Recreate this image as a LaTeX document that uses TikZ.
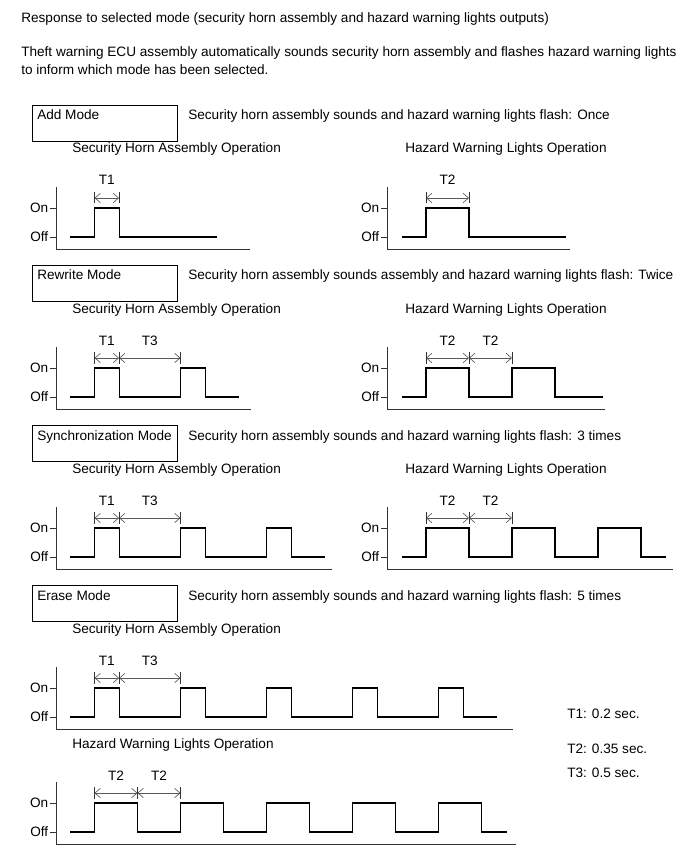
\documentclass[tikz,border=0pt]{standalone}
\usepackage{fontspec}
\setmainfont{Liberation Sans}
\usetikzlibrary{arrows.meta}

\tikzset{
  testo/.style={inner sep=0pt, anchor=base west},
  riquadro/.style={draw=black, line width=0.6pt},
  segnale/.style={draw=black, line width=0.8pt},
  asse/.style={draw=black!80, line width=0.6pt},
  quotatura/.style={draw=black!65, line width=0.5pt,
    {Straight Barb[length=4pt,width=7pt]}-{Straight Barb[length=4pt,width=7pt]}},
}

\begin{document}
\begin{tikzpicture}[x=0.75pt, y=-0.75pt, font=\fontsize{10.2}{12}\selectfont]
        \useasboundingbox (0,0) rectangle (691,855);
        % --- macro riutilizzabili -----------------------------------------
        \def\periodo{86}
        \def\tuno{24.6}
        \def\tdue{43}
        % riquadro della modalita: nome, y alto, titolo, descrizione
        \def\modalita#1#2#3#4{%
          \draw[riquadro] (32,#2) rectangle (177,#2+36);
          \node[testo] (#1-titolo) at (37,#2+15) {#3};
          \node[testo] (#1-descr) at (188,#2+15) {#4};}
        % assi: nome, x asse, y livello On, x fine asse
        \def\assi#1#2#3#4{%
          \draw[asse] (#2,#3-21) -- (#2,#3+41) -- (#4,#3+41);
          \draw[asse] (#2-6,#3) -- (#2,#3);
          \draw[asse] (#2-6,#3+29) -- (#2,#3+29);
          \node[testo, anchor=base east] (#1-on) at (#2-7.5,#3+4.5) {On};
          \node[testo, anchor=base east] (#1-off) at (#2-7.5,#3+33.5) {Off};}
        % impulsi: x inizio, x primo fronte, durata, numero, x fine, y On
        \def\impulsi#1#2#3#4#5#6{%
          \draw[segnale] (#1,#6+29) \foreach \k in {1,...,#4} {
            -- ({#2+(\k-1)*\periodo},#6+29) -- ({#2+(\k-1)*\periodo},#6)
            -- ({#2+(\k-1)*\periodo+#3},#6) -- ({#2+(\k-1)*\periodo+#3},#6+29)}
            -- (#5,#6+29);}
        % quota: nome, x1, x2, y livello On, etichetta
        \def\quota#1#2#3#4#5{%
          \draw[quotatura] (#2,#4-10) -- (#3,#4-10);
          \draw[asse, line width=0.5pt] (#2,#4-16) -- (#2,#4-4.5);
          \draw[asse, line width=0.5pt] (#3,#4-16) -- (#3,#4-4.5);
          \node[testo, anchor=base] (#1) at ({(#2+#3)/2},#4-23) {#5};}
        % --- intestazione -------------------------------------------------
        \node[testo] (titolo) at (21,23) {Response to selected mode (security horn assembly and hazard warning lights outputs)};
        \node[testo] (intro1) at (21,57) {Theft warning ECU assembly automatically sounds security horn assembly and flashes hazard warning lights};
        \node[testo] (intro2) at (21,74.5) {to inform which mode has been selected.};
        % --- add mode -----------------------------------------------------
        \modalita{add}{105}{Add Mode}{Security horn assembly sounds and hazard warning lights flash: Once}
        \node[testo] (add-sx) at (72,153) {Security Horn Assembly Operation};
        \node[testo] (add-dx) at (405,153) {Hazard Warning Lights Operation};
        \assi{add-clacson}{56}{208}{250}
        \impulsi{70}{94.5}{\tuno}{1}{217}{208}
        \quota{add-t1}{94.5}{94.5+\tuno}{208}{T1}
        \assi{add-luci}{387}{208}{570}
        \impulsi{402}{426}{\tdue}{1}{566}{208}
        \quota{add-t2}{426}{426+\tdue}{208}{T2}
        % --- rewrite mode -------------------------------------------------
        \modalita{rw}{265}{Rewrite Mode}{Security horn assembly sounds assembly and hazard warning lights flash: Twice}
        \node[testo] (rw-sx) at (72,313) {Security Horn Assembly Operation};
        \node[testo] (rw-dx) at (405,313) {Hazard Warning Lights Operation};
        \assi{rw-clacson}{56}{368}{251}
        \impulsi{70}{94.5}{\tuno}{2}{239}{368}
        \quota{rw-t1}{94.5}{94.5+\tuno}{368}{T1}
        \quota{rw-t3}{94.5+\tuno}{94.5+\periodo}{368}{T3}
        \assi{rw-luci}{387}{368}{605}
        \impulsi{402}{426}{\tdue}{2}{603}{368}
        \quota{rw-t2a}{426}{426+\tdue}{368}{T2}
        \quota{rw-t2b}{426+\tdue}{426+\periodo}{368}{T2}
        % --- synchronization mode -----------------------------------------
        \modalita{sy}{425}{Synchronization Mode}{Security horn assembly sounds and hazard warning lights flash: 3 times}
        \node[testo] (sy-sx) at (72,473) {Security Horn Assembly Operation};
        \node[testo] (sy-dx) at (405,473) {Hazard Warning Lights Operation};
        \assi{sy-clacson}{56}{528}{332}
        \impulsi{70}{94.5}{\tuno}{3}{325}{528}
        \quota{sy-t1}{94.5}{94.5+\tuno}{528}{T1}
        \quota{sy-t3}{94.5+\tuno}{94.5+\periodo}{528}{T3}
        \assi{sy-luci}{387}{528}{673}
        \impulsi{402}{426}{\tdue}{3}{666}{528}
        \quota{sy-t2a}{426}{426+\tdue}{528}{T2}
        \quota{sy-t2b}{426+\tdue}{426+\periodo}{528}{T2}
        % --- erase mode ---------------------------------------------------
        \modalita{er}{585}{Erase Mode}{Security horn assembly sounds and hazard warning lights flash: 5 times}
        \node[testo] (er-clacson-tit) at (72,633) {Security Horn Assembly Operation};
        \assi{er-clacson}{56}{688}{513}
        \impulsi{70}{94.5}{\tuno}{5}{497}{688}
        \quota{er-t1}{94.5}{94.5+\tuno}{688}{T1}
        \quota{er-t3}{94.5+\tuno}{94.5+\periodo}{688}{T3}
        \node[testo] (er-luci-tit) at (72,748) {Hazard Warning Lights Operation};
        \assi{er-luci}{56}{803}{516}
        \impulsi{70}{94.5}{\tdue}{5}{507}{803}
        \quota{er-t2a}{94.5}{94.5+\tdue}{803}{T2}
        \quota{er-t2b}{94.5+\tdue}{94.5+\periodo}{803}{T2}
        % --- legenda ------------------------------------------------------
        \node[testo] (leg-t1) at (567,718) {T1: 0.2 sec.};
        \node[testo] (leg-t2) at (567,753) {T2: 0.35 sec.};
        \node[testo] (leg-t3) at (567,777) {T3: 0.5 sec.};
    \end{tikzpicture}
\end{document}
